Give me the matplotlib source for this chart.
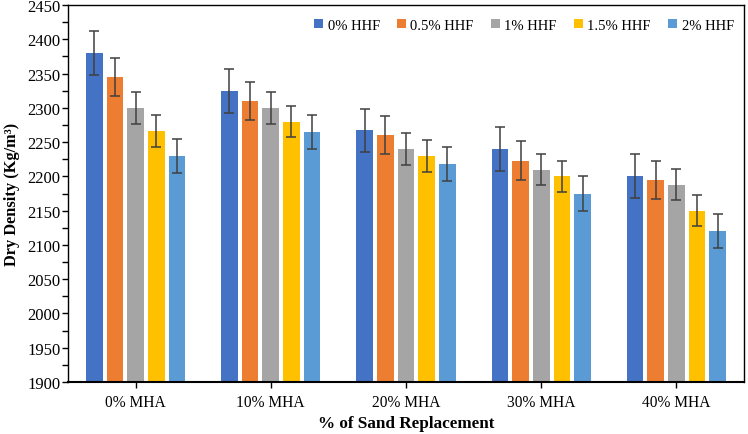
import numpy as np
import matplotlib
matplotlib.use("Agg")
import matplotlib.pyplot as plt
from matplotlib.ticker import MultipleLocator

plt.rcParams['font.family'] = ['Liberation Serif', 'DejaVu Serif']

categories = ['0% MHA', '10% MHA', '20% MHA', '30% MHA', '40% MHA']
series = ['0% HHF', '0.5% HHF', '1% HHF', '1.5% HHF', '2% HHF']
density = [
    [2380, 2325, 2267, 2240, 2200],
    [2345, 2310, 2260, 2223, 2195],
    [2300, 2300, 2240, 2210, 2188],
    [2266, 2280, 2230, 2200, 2150],
    [2230, 2265, 2218, 2175, 2120],
]
errors = [32, 28, 23, 23, 25]
colors = ['#4472C4', '#ED7D31', '#A5A5A5', '#FFC000', '#5B9BD5']

fig = plt.figure(figsize=(7.48, 4.35), dpi=100)
ax = fig.add_axes([68 / 748, 1 - 383 / 435, (744 - 68) / 748, (383 - 6) / 435])

x = np.arange(len(categories))
step = 0.153
width = 0.123
for i, name in enumerate(series):
    pos = x + (i - 2) * step
    ax.bar(pos, density[i], width, color=colors[i], label=name,
           yerr=errors[i], capsize=3.5,
           error_kw=dict(ecolor='#404040', elinewidth=1.1, capthick=1.1))

ax.set_xlim(-0.5, 4.5)
ax.set_ylim(1900, 2450)
ax.yaxis.set_major_locator(MultipleLocator(50))
ax.yaxis.set_minor_locator(MultipleLocator(25))
ax.set_xticks(x)
ax.set_xticklabels(categories)
ax.tick_params(axis='both', direction='out', length=4, width=1, colors='black')
ax.tick_params(axis='y', which='both', labelsize=12, pad=1.5)
ax.tick_params(axis='y', which='minor', length=4, width=1)
ax.tick_params(axis='x', labelsize=11.2, pad=5)

for s in ax.spines.values():
    s.set_linewidth(1.0)
    s.set_color('black')
ax.spines['bottom'].set_linewidth(1.5)

ax.set_ylabel('Dry Density (Kg/m³)', fontsize=11.8, fontweight='bold', labelpad=5)
ax.set_xlabel('% of Sand Replacement', fontsize=12.3, fontweight='bold', labelpad=3)

ax.legend(loc='upper right', ncol=5, frameon=False, fontsize=10.5,
          handlelength=0.6, handleheight=0.6, handletextpad=0.3,
          columnspacing=1.2, bbox_to_anchor=(1.0, 0.99), borderaxespad=0.3)

fig.savefig('out.png', dpi=100)
